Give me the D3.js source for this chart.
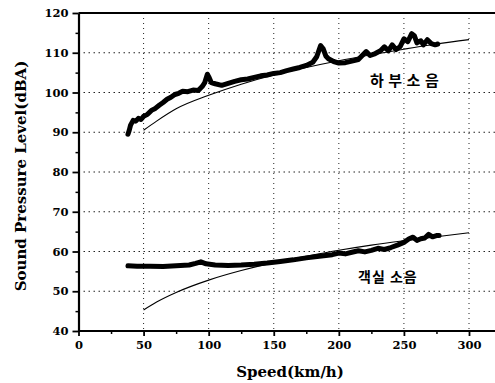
<!DOCTYPE html>
<html>
<head>
<meta charset="utf-8">
<script src="https://cdn.jsdelivr.net/npm/d3@7"></script>
<style>
  body { margin: 0; background: #fff; }
  .tick text { font-family: "DejaVu Serif", serif; font-weight: bold; }
</style>
</head>
<body>
<div id="chart"></div>
<script>
// 측정 데이터 (speed km/h, dBA)
const underfloorMeasured = [
  [38,89.5],[39,90.5],[40,91.8],[42,93],[44,92.8],[46,93.5],[48,93.2],[50,94],[53,94.5],[56,95.5],
  [59,96],[62,96.8],[65,97.5],[68,98.3],[71,98.8],[74,99.5],[77,99.8],[80,100.3],[84,100.2],[88,100.6],
  [92,100.5],[95,101.5],[97,102.5],[99,104.6],[100,104],[102,102.5],[105,102.2],[110,101.8],[115,102.3],
  [120,102.8],[125,103.2],[130,103.4],[135,103.8],[140,104.2],[145,104.4],[150,104.8],[155,105],[160,105.5],
  [165,105.9],[170,106.3],[175,106.8],[180,107.6],[183,109],[186,111.8],[188,111],[190,109.2],[192,108.5],
  [196,107.8],[200,107.4],[205,107.5],[210,107.9],[215,108.3],[218,109.3],[221,110.3],[224,109.3],[228,109.8],
  [232,110.5],[235,111.5],[238,110.5],[241,112],[244,110.8],[247,111.5],[250,113.5],[253,112.8],[256,114.8],
  [258,114.3],[260,112.5],[263,113],[265,112],[268,113.3],[271,112.3],[274,112],[276,112.2]
];
const underfloorFit = [
  [50,90.5],[60,92.8],[75,95.9],[100,99.3],[125,102.1],[150,104.4],[175,106.3],[200,108],
  [225,109.5],[250,110.9],[275,112.2],[300,113.3]
];
const cabinMeasured = [
  [38,56.4],[45,56.3],[55,56.3],[65,56.2],[75,56.4],[85,56.6],[90,57],[94,57.4],[98,56.9],[105,56.6],
  [115,56.5],[125,56.6],[135,56.8],[145,57.1],[155,57.5],[165,57.9],[175,58.4],[185,58.8],[195,59.2],
  [200,59.6],[205,59.4],[210,59.8],[215,60.2],[220,59.9],[225,60.3],[230,60.8],[235,60.5],[240,61],
  [245,61.6],[250,62.3],[254,63.2],[257,63.6],[260,62.8],[263,63.2],[266,63.4],[269,64.3],[272,63.7],
  [275,64],[277,64]
];
const cabinFit = [
  [50,45.3],[60,47.3],[75,49.7],[100,52.8],[125,55.2],[150,57.2],[175,58.8],[200,60.3],
  [225,61.6],[250,62.7],[275,63.7],[300,64.7]
];
const xTicks = [0, 50, 100, 150, 200, 250, 300];
const yTicks = [40, 50, 60, 70, 80, 90, 100, 110, 120];

const W = 495, H = 383;
const svg = d3.select("#chart").append("svg")
    .attr("width", W).attr("height", H);

// 축 스케일
const x = d3.scaleLinear().domain([0, 300]).range([78.5, 469]);
const y = d3.scaleLinear().domain([40, 120]).range([331, 13]);

// 그리드 (점선)
svg.append("g").selectAll("line")
    .data(xTicks.filter(d => d > 0))
    .enter().append("line")
    .attr("x1", d => x(d)).attr("x2", d => x(d))
    .attr("y1", y(120)).attr("y2", y(40))
    .attr("stroke", "#222").attr("stroke-width", 1)
    .attr("stroke-dasharray", "1,4");
svg.append("g").selectAll("line")
    .data(yTicks.filter(d => d > 40 && d < 120))
    .enter().append("line")
    .attr("x1", x(0)).attr("x2", W)
    .attr("y1", d => y(d)).attr("y2", d => y(d))
    .attr("stroke", "#222").attr("stroke-width", 1)
    .attr("stroke-dasharray", "1.5,3.5");

// 상단 테두리
svg.append("line")
    .attr("x1", x(0)).attr("x2", W)
    .attr("y1", y(120)).attr("y2", y(120))
    .attr("stroke", "#000").attr("stroke-width", 2.2);

// 보조 눈금
svg.append("g")
    .attr("transform", `translate(0,${y(40)})`)
    .call(d3.axisBottom(x).tickValues(d3.range(25, 300, 50)).tickSize(3).tickFormat(""))
    .call(g => g.select(".domain").remove())
    .call(g => g.selectAll("line").attr("stroke-width", 1.5));
svg.append("g")
    .attr("transform", `translate(${x(0)},0)`)
    .call(d3.axisLeft(y).tickValues(d3.range(45, 120, 10)).tickSize(3).tickFormat(""))
    .call(g => g.select(".domain").remove())
    .call(g => g.selectAll("line").attr("stroke-width", 1.5));

// X 축
const xAxis = svg.append("g")
    .attr("transform", `translate(0,${y(40)})`)
    .call(d3.axisBottom(x).tickValues(xTicks).tickSize(5).tickSizeOuter(0).tickPadding(5));
xAxis.select(".domain").attr("d", `M${x(0)},0H${W}`).attr("stroke-width", 2.2);
xAxis.selectAll("line").attr("stroke-width", 1.8);
xAxis.selectAll("text").style("font-size", "11.5px").attr("fill", "#000");

// Y 축
const yAxis = svg.append("g")
    .attr("transform", `translate(${x(0)},0)`)
    .call(d3.axisLeft(y).tickValues(yTicks).tickSize(6).tickSizeOuter(0).tickPadding(4));
yAxis.select(".domain").attr("stroke-width", 2.2);
yAxis.selectAll("line").attr("stroke-width", 1.8);
yAxis.selectAll("text").style("font-size", "11.5px").attr("fill", "#000");

const line = d3.line().x(d => x(d[0])).y(d => y(d[1])).curve(d3.curveMonotoneX);

// 측정값 (굵은 선)
[underfloorMeasured, cabinMeasured].forEach(data => {
    svg.append("path")
        .datum(data)
        .attr("d", d3.line().x(d => x(d[0])).y(d => y(d[1])))
        .attr("fill", "none").attr("stroke", "#000")
        .attr("stroke-width", 5)
        .attr("stroke-linejoin", "round").attr("stroke-linecap", "round");
});

// 근사곡선 (가는 선)
[underfloorFit, cabinFit].forEach(data => {
    svg.append("path")
        .datum(data)
        .attr("d", line)
        .attr("fill", "none").attr("stroke", "#000")
        .attr("stroke-width", 1.1);
});

// 라벨
svg.append("text")
    .attr("x", 370).attr("y", 86)
    .style("font-family", "'Noto Sans CJK KR'")
    .style("font-size", "15px").style("font-weight", "bold")
    .style("letter-spacing", "4.5px")
    .text("하부소음");
svg.append("text")
    .attr("x", 358).attr("y", 282)
    .style("font-family", "'Noto Sans CJK KR'")
    .style("font-size", "14px").style("font-weight", "bold")
    .style("letter-spacing", "1px")
    .text("객실 소음");

// 축 제목
svg.append("text")
    .attr("x", 290).attr("y", 377)
    .attr("text-anchor", "middle")
    .style("font-family", "'DejaVu Serif', serif")
    .style("font-size", "15px").style("font-weight", "bold")
    .text("Speed(km/h)");
svg.append("text")
    .attr("transform", "translate(26,176) rotate(-90)")
    .attr("text-anchor", "middle")
    .style("font-family", "'DejaVu Serif', serif")
    .style("font-size", "15px").style("font-weight", "bold")
    .text("Sound Pressure Level(dBA)");
</script>
</body>
</html>
